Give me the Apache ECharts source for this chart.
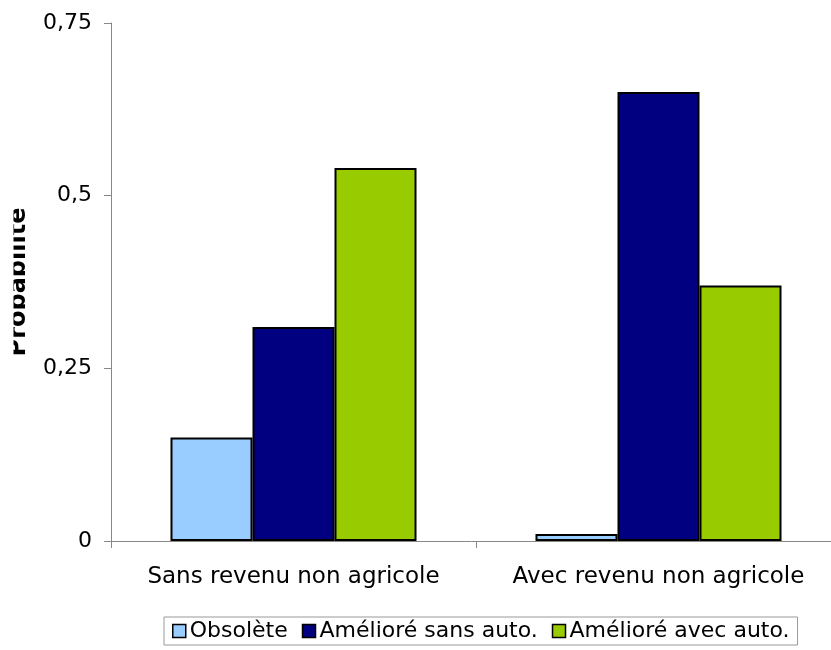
<!DOCTYPE html>
<html><head><meta charset="utf-8">
<script src="https://cdn.jsdelivr.net/npm/echarts@6/dist/echarts.min.js"></script>
<style>html,body{margin:0;padding:0;background:#fff}#c{width:831px;height:650px}</style>
</head><body><div id="c"></div>
<script>
const categories = ['Sans revenu non agricole', 'Avec revenu non agricole'];
const obsolete = [0.15, 0.01];
const amelioreSans = [0.31, 0.65];
const amelioreAvec = [0.54, 0.37];
const seriesNames = ['Obsolète', 'Amélioré sans auto.', 'Amélioré avec auto.'];
const colors = ['#99CCFF', '#000080', '#99CC00'];
const yTicks = {min: 0, max: 0.75, interval: 0.25};
const yTitle = 'Probabilité';
const font = 'DejaVu Sans';
const chart = echarts.init(document.getElementById('c'));
const mk = (name, data, color) => ({
  name, type: 'bar', data, barGap: '0%', barCategoryGap: '32.6%',
  itemStyle: {color, borderColor: '#000', borderWidth: 2},
  emphasis: {disabled: true}
});
chart.setOption({
  animation: false,
  textStyle: {fontFamily: font},
  grid: {left: 111, right: -10, top: 23, bottom: 109, containLabel: false, outerBoundsMode: 'none'},
  legend: {
    data: seriesNames, left: 164, top: 617, icon: 'rect', itemWidth: 13, itemHeight: 13,
    itemGap: 14, padding: [3, 8], borderColor: '#999', borderWidth: 1,
    textStyle: {fontFamily: font, fontSize: 22, color: '#000', padding: [0, 0, 0, -1]},
    itemStyle: {borderColor: '#000', borderWidth: 1.5}
  },
  graphic: [
    {type: 'text', x: 19, y: 282, rotation: Math.PI / 2, z: 50, silent: true,
     style: {text: yTitle, font: 'bold 24px "DejaVu Sans"', fill: '#000', align: 'center', verticalAlign: 'middle'}},
    {type: 'rect', shape: {x: 0, y: 150, width: 13.5, height: 260}, style: {fill: '#fff'}, z: 100, silent: true}
  ],
  xAxis: {
    type: 'category', data: categories,
    axisLine: {lineStyle: {color: '#888'}},
    axisTick: {show: true, alignWithLabel: false, length: 7, lineStyle: {color: '#888'}},
    axisLabel: {fontFamily: font, fontSize: 23, color: '#000', margin: 25, interval: 0, hideOverlap: false}
  },
  yAxis: {
    type: 'value', min: yTicks.min, max: yTicks.max, interval: yTicks.interval,
    axisLine: {show: true, lineStyle: {color: '#888'}},
    axisTick: {show: true, length: 7, lineStyle: {color: '#888'}},
    splitLine: {show: false},
    axisLabel: {fontFamily: font, fontSize: 22, color: '#000', margin: 19,
      formatter: v => v === 0 ? '0' : String(v).replace('.', ',')}
  },
  series: [mk(seriesNames[0], obsolete, colors[0]), mk(seriesNames[1], amelioreSans, colors[1]), mk(seriesNames[2], amelioreAvec, colors[2])]
});
</script></body></html>
